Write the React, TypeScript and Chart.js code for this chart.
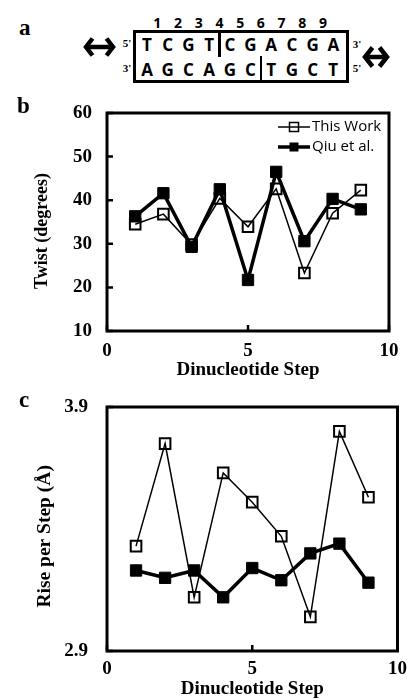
import React, { useEffect, useRef } from "react";
import { Chart, registerables } from "chart.js";

Chart.register(...registerables);

// ---- data ----
const steps = [1, 2, 3, 4, 5, 6, 7, 8, 9];
const seriesLabels = ["This Work", "Qiu et al."];
const twistThisWork = [34.5, 36.8, 29.8, 40.4, 33.9, 42.6, 23.3, 37.0, 42.3];
const twistQiu = [36.3, 41.6, 29.3, 42.5, 21.7, 46.5, 30.6, 40.3, 37.9];
const riseThisWork = [3.33, 3.75, 3.12, 3.63, 3.51, 3.37, 3.04, 3.8, 3.53];
const riseQiu = [3.23, 3.2, 3.23, 3.12, 3.24, 3.19, 3.3, 3.34, 3.18];
const xTicks = [0, 5, 10];
const twistTicks = [10, 20, 30, 40, 50, 60];
const riseTicks = [2.9, 3.9];
const topStrand = ["T", "C", "G", "T", "C", "G", "A", "C", "G", "A"];
const bottomStrand = ["A", "G", "C", "A", "G", "C", "T", "G", "C", "T"];
const stepNumbers = ["1", "2", "3", "4", "5", "6", "7", "8", "9"];
const xTitle = "Dinucleotide Step";
const twistTitle = "Twist (degrees)";
const riseTitle = "Rise per Step (Å)";

const SERIF = '"Liberation Serif", "Times New Roman", serif';
const SANS = '"Open Sans", "Liberation Sans", sans-serif';

const boxPlugin = {
  id: "plotBox",
  beforeDatasetsDraw(chart: any) {
    const { ctx, chartArea } = chart;
    const xs = chart.scales.x;
    const ys = chart.scales.y;
    ctx.save();
    ctx.strokeStyle = "#000";
    // inward tick marks
    ctx.lineWidth = 2.5;
    ctx.beginPath();
    xs.ticks.forEach((t: any) => {
      const px = xs.getPixelForValue(t.value);
      ctx.moveTo(px, chartArea.bottom);
      ctx.lineTo(px, chartArea.bottom - 6);
    });
    ys.ticks.forEach((t: any) => {
      const py = ys.getPixelForValue(t.value);
      ctx.moveTo(chartArea.left, py);
      ctx.lineTo(chartArea.left + 6, py);
    });
    ctx.stroke();
    ctx.lineWidth = 3;
    ctx.strokeRect(
      chartArea.left,
      chartArea.top,
      chartArea.right - chartArea.left,
      chartArea.bottom - chartArea.top
    );
    ctx.restore();
  },
};

const legendPlugin = {
  id: "insideLegend",
  afterDatasetsDraw(chart: any) {
    const { ctx, chartArea } = chart;
    chart.data.datasets.forEach((ds: any, i: number) => {
      const y = chartArea.top + 14 + i * 20;
      const x0 = chartArea.right - 111;
      ctx.save();
      ctx.strokeStyle = "#000";
      ctx.lineWidth = ds.borderWidth;
      ctx.beginPath();
      ctx.moveTo(x0, y);
      ctx.lineTo(x0 + 32, y);
      ctx.stroke();
      const s = 4.5;
      if (ds.pointBackgroundColor === "#000") {
        ctx.fillStyle = "#000";
        ctx.fillRect(x0 + 16 - s, y - s, 2 * s, 2 * s);
      } else {
        ctx.lineWidth = 1.5;
        ctx.strokeRect(x0 + 16 - s, y - s, 2 * s, 2 * s);
      }
      ctx.fillStyle = "#000";
      ctx.font = `15px ${SANS}`;
      ctx.textBaseline = "middle";
      ctx.textAlign = "left";
      ctx.fillText(ds.label, x0 + 34, y);
      ctx.restore();
    });
  },
};

function makeDatasets(a: number[], b: number[]) {
  return [
    {
      label: seriesLabels[0],
      data: steps.map((x, i) => ({ x, y: a[i] })),
      borderColor: "#000",
      borderWidth: 1.5,
      pointStyle: "rect",
      pointRadius: 7.5,
      pointBorderWidth: 2,
      pointBorderColor: "#000",
      pointBackgroundColor: "rgba(0,0,0,0)",
      fill: false,
    },
    {
      label: seriesLabels[1],
      data: steps.map((x, i) => ({ x, y: b[i] })),
      borderColor: "#000",
      borderWidth: 3.5,
      pointStyle: "rect",
      pointRadius: 8,
      pointBorderWidth: 1,
      pointBorderColor: "#000",
      pointBackgroundColor: "#000",
      fill: false,
    },
  ];
}

interface Cfg {
  a: number[];
  b: number[];
  yMin: number;
  yMax: number;
  yTicks: number[];
  yDecimals: number;
  yTitle: string;
  yTitleSize: number;
  yTitlePad: number;
  yTickGap: number;
  xTickGap: number;
  xTitlePad: number;
  height: number;
  padding: { top: number; right: number; bottom: number; left: number };
  xAxisHeight: number;
  legend: boolean;
}

function buildConfig(c: Cfg): any {
  const tickFont = { family: SERIF, size: 19, weight: "bold" as const };
  return {
    type: "line",
    data: { datasets: makeDatasets(c.a, c.b) },
    options: {
      responsive: false,
      animation: false,
      events: [],
      layout: { padding: c.padding },
      plugins: { legend: { display: false }, tooltip: { enabled: false } },
      scales: {
        x: {
          type: "linear",
          min: 0,
          max: 10,
          afterBuildTicks: (s: any) => {
            s.ticks = xTicks.map((v) => ({ value: v }));
          },
          afterFit: (s: any) => {
            s.height = c.xAxisHeight;
          },
          border: { display: false },
          grid: { display: false, drawTicks: true, tickLength: c.xTickGap },
          ticks: {
            color: "#000",
            font: tickFont,
            padding: 0,
            maxRotation: 0,
            autoSkip: false,
            callback: (v: any) => String(v),
          },
          title: {
            display: true,
            text: xTitle,
            color: "#000",
            font: { family: SERIF, size: 19, weight: "bold" },
            padding: { top: 0, bottom: c.xTitlePad },
          },
        },
        y: {
          type: "linear",
          min: c.yMin,
          max: c.yMax,
          afterBuildTicks: (s: any) => {
            s.ticks = c.yTicks.map((v) => ({ value: v }));
          },
          afterFit: (s: any) => {
            s.width = 107;
          },
          border: { display: false },
          grid: { display: false, drawTicks: true, tickLength: c.yTickGap },
          ticks: {
            color: "#000",
            font: tickFont,
            padding: 0,
            autoSkip: false,
            callback: (v: any) => Number(v).toFixed(c.yDecimals),
          },
          title: {
            display: true,
            text: c.yTitle,
            color: "#000",
            font: { family: SERIF, size: c.yTitleSize, weight: "bold" },
            padding: { top: c.yTitlePad, bottom: 0 },
          },
        },
      },
    },
    plugins: c.legend ? [boxPlugin, legendPlugin] : [boxPlugin],
  };
}

function LineChart({ cfg, top }: { cfg: Cfg; top: number }) {
  const ref = useRef<HTMLCanvasElement | null>(null);
  useEffect(() => {
    if (!ref.current) return;
    const chart = new Chart(ref.current, buildConfig(cfg));
    return () => chart.destroy();
  }, []);
  return (
    <div style={{ position: "absolute", left: 0, top, width: 407, height: cfg.height }}>
      <canvas
        ref={ref}
        width={407}
        height={cfg.height}
        style={{ display: "block", width: 407, height: cfg.height }}
      />
    </div>
  );
}

function Arrow({ x1, x2, cy, h }: { x1: number; x2: number; cy: number; h: number }) {
  const hw = h / 2;
  return (
    <svg
      style={{ position: "absolute", left: 0, top: 0, overflow: "visible" }}
      width={407}
      height={100}
    >
      <g fill="none" stroke="#000" strokeWidth={4.5} strokeLinejoin="miter" strokeLinecap="butt">
        <line x1={x1 + 2} y1={cy} x2={x2 - 2} y2={cy} />
        <polyline points={`${x1 + hw},${cy - hw} ${x1 + 2},${cy} ${x1 + hw},${cy + hw}`} />
        <polyline points={`${x2 - hw},${cy - hw} ${x2 - 2},${cy} ${x2 - hw},${cy + hw}`} />
      </g>
    </svg>
  );
}

function Label({ x, y, text, font }: { x: number; y: number; text: string; font: string }) {
  return (
    <div
      style={{
        position: "absolute",
        left: x,
        top: y,
        transform: "translate(-50%, -50%)",
        font,
        lineHeight: 1,
        whiteSpace: "pre",
        color: "#000",
      }}
    >
      {text}
    </div>
  );
}

function PanelA() {
  const x0 = 147;
  const dx = 20.7;
  const letterFont = `bold 17px ${SANS}`;
  const numFont = `bold 14px ${SANS}`;
  const primeFont = `bold 11px ${SERIF}`;
  return (
    <div style={{ position: "absolute", left: 0, top: 0, width: 407, height: 90 }}>
      <Arrow x1={84} x2={115} cy={47} h={17} />
      <Arrow x1={363} x2={389} cy={57} h={19} />
      <div
        style={{
          position: "absolute",
          left: 133,
          top: 30,
          width: 216,
          height: 53,
          border: "3px solid #000",
          boxSizing: "border-box",
        }}
      />
      <div style={{ position: "absolute", left: x0 + 3.5 * dx - 1, top: 31, width: 2.5, height: 26, background: "#000" }} />
      <div style={{ position: "absolute", left: x0 + 5.5 * dx - 1, top: 56, width: 2.5, height: 26, background: "#000" }} />
      {stepNumbers.map((n, i) => (
        <Label key={"n" + i} x={x0 + (i + 0.5) * dx} y={23} text={n} font={numFont} />
      ))}
      {topStrand.map((ch, i) => (
        <Label key={"t" + i} x={x0 + i * dx} y={44} text={ch} font={letterFont} />
      ))}
      {bottomStrand.map((ch, i) => (
        <Label key={"b" + i} x={x0 + i * dx} y={69} text={ch} font={letterFont} />
      ))}
      <Label x={127} y={43} text={"5'"} font={primeFont} />
      <Label x={357} y={44} text={"3'"} font={primeFont} />
      <Label x={127} y={68} text={"3'"} font={primeFont} />
      <Label x={357} y={68} text={"5'"} font={primeFont} />
      <div style={{ position: "absolute", left: 19, top: 16, font: `bold 23px ${SERIF}`, lineHeight: 1 }}>a</div>
    </div>
  );
}

const cfgB: Cfg = {
  a: twistThisWork,
  b: twistQiu,
  yMin: 10,
  yMax: 60,
  yTicks: twistTicks,
  yDecimals: 0,
  yTitle: twistTitle + "    ",
  yTitleSize: 18,
  yTitlePad: 32,
  yTickGap: 15,
  xTickGap: 9,
  xTitlePad: 4,
  height: 295,
  padding: { top: 23, right: 18, bottom: 0, left: 0 },
  xAxisHeight: 54,
  legend: true,
};

const cfgC: Cfg = {
  a: riseThisWork,
  b: riseQiu,
  yMin: 2.9,
  yMax: 3.9,
  yTicks: riseTicks,
  yDecimals: 1,
  yTitle: riseTitle + "   ",
  yTitleSize: 19.5,
  yTitlePad: 33,
  yTickGap: 19,
  xTickGap: 7,
  xTitlePad: 0,
  height: 310,
  padding: { top: 17, right: 9, bottom: 0, left: 0 },
  xAxisHeight: 49,
  legend: false,
};

export default function App() {
  return (
    <div style={{ position: "absolute", left: 0, top: 0, width: 407, height: 700, background: "#fff" }}>
      <PanelA />
      <LineChart cfg={cfgB} top={90} />
      <LineChart cfg={cfgC} top={390} />
      <div style={{ position: "absolute", left: 17, top: 94, font: `bold 23px ${SERIF}`, lineHeight: 1 }}>b</div>
      <div style={{ position: "absolute", left: 19, top: 388, font: `bold 23px ${SERIF}`, lineHeight: 1 }}>c</div>
    </div>
  );
}
